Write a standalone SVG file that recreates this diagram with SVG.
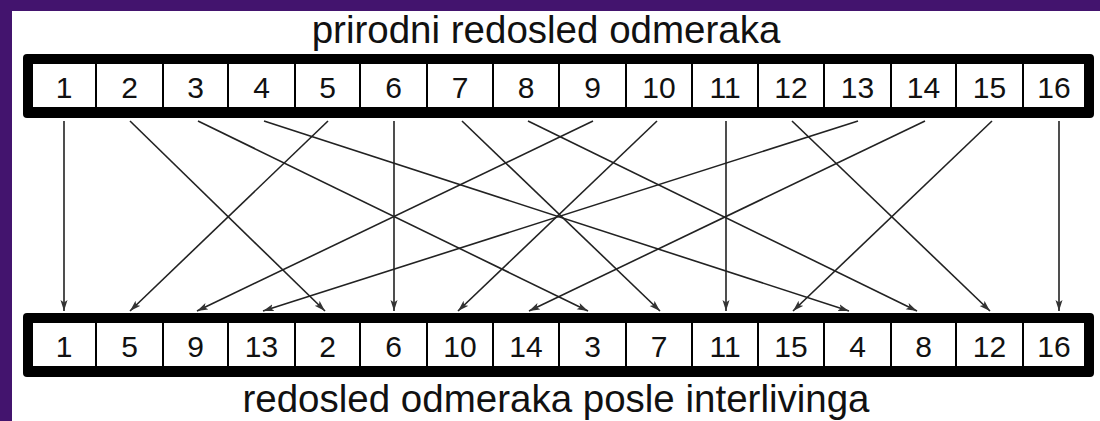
<svg xmlns="http://www.w3.org/2000/svg" width="1100" height="421" viewBox="0 0 1100 421">
  <defs>
    <style>
      .frame { fill: #000; }
      .cell { fill: #fff; stroke: #000; stroke-width: 2; }
      .num { font-family: "Liberation Sans", Arial, sans-serif; font-size: 30px; fill: #111; text-anchor: middle; }
      .title { font-family: "Liberation Sans", Arial, sans-serif; font-size: 38.5px; fill: #111; text-anchor: middle; }
      .conn line { stroke: #222; stroke-width: 1.6; fill: none; marker-end: url(#arr); }
    </style>
    <marker id="arr" markerUnits="userSpaceOnUse" markerWidth="12" markerHeight="10" refX="11" refY="4" orient="auto">
      <path d="M0,0.5 L11,4 L0,7.5 L2.5,4 Z" fill="#333"/>
    </marker>
  </defs>
  <rect x="0" y="0" width="1100" height="421" fill="#43146e"/>
  <rect x="12" y="11" width="1088" height="410" fill="#fff"/>

  <text class="title" x="546" y="43">prirodni redosled odmeraka</text>
  <text class="title" x="556" y="412">redosled odmeraka posle interlivinga</text>

  <g id="top-row">
    <rect class="frame" x="23" y="54" width="1071" height="64" rx="4"/>
    <g id="top-1"><rect class="cell" x="32" y="63" width="64" height="45"/><text class="num" x="64" y="98">1</text></g>
    <g id="top-2"><rect class="cell" x="96" y="63" width="67" height="45"/><text class="num" x="129.5" y="98">2</text></g>
    <g id="top-3"><rect class="cell" x="163" y="63" width="65" height="45"/><text class="num" x="195.5" y="98">3</text></g>
    <g id="top-4"><rect class="cell" x="228" y="63" width="67" height="45"/><text class="num" x="261.5" y="98">4</text></g>
    <g id="top-5"><rect class="cell" x="295" y="63" width="65" height="45"/><text class="num" x="327.5" y="98">5</text></g>
    <g id="top-6"><rect class="cell" x="360" y="63" width="67" height="45"/><text class="num" x="393.5" y="98">6</text></g>
    <g id="top-7"><rect class="cell" x="427" y="63" width="66" height="45"/><text class="num" x="460" y="98">7</text></g>
    <g id="top-8"><rect class="cell" x="493" y="63" width="66" height="45"/><text class="num" x="526" y="98">8</text></g>
    <g id="top-9"><rect class="cell" x="559" y="63" width="67" height="45"/><text class="num" x="592.5" y="98">9</text></g>
    <g id="top-10"><rect class="cell" x="626" y="63" width="66" height="45"/><text class="num" x="659" y="98">10</text></g>
    <g id="top-11"><rect class="cell" x="692" y="63" width="66" height="45"/><text class="num" x="725" y="98">11</text></g>
    <g id="top-12"><rect class="cell" x="758" y="63" width="66" height="45"/><text class="num" x="791" y="98">12</text></g>
    <g id="top-13"><rect class="cell" x="824" y="63" width="67" height="45"/><text class="num" x="857.5" y="98">13</text></g>
    <g id="top-14"><rect class="cell" x="891" y="63" width="65" height="45"/><text class="num" x="923.5" y="98">14</text></g>
    <g id="top-15"><rect class="cell" x="956" y="63" width="67" height="45"/><text class="num" x="989.5" y="98">15</text></g>
    <g id="top-16"><rect class="cell" x="1023" y="63" width="62" height="45"/><text class="num" x="1054" y="98">16</text></g>
  </g>

  <g id="bottom-row">
    <rect class="frame" x="23" y="313" width="1071" height="64" rx="4"/>
    <g id="bot-1"><rect class="cell" x="32" y="322" width="64" height="45"/><text class="num" x="64" y="357">1</text></g>
    <g id="bot-5"><rect class="cell" x="96" y="322" width="67" height="45"/><text class="num" x="129.5" y="357">5</text></g>
    <g id="bot-9"><rect class="cell" x="163" y="322" width="65" height="45"/><text class="num" x="195.5" y="357">9</text></g>
    <g id="bot-13"><rect class="cell" x="228" y="322" width="67" height="45"/><text class="num" x="261.5" y="357">13</text></g>
    <g id="bot-2"><rect class="cell" x="295" y="322" width="65" height="45"/><text class="num" x="327.5" y="357">2</text></g>
    <g id="bot-6"><rect class="cell" x="360" y="322" width="67" height="45"/><text class="num" x="393.5" y="357">6</text></g>
    <g id="bot-10"><rect class="cell" x="427" y="322" width="66" height="45"/><text class="num" x="460" y="357">10</text></g>
    <g id="bot-14"><rect class="cell" x="493" y="322" width="66" height="45"/><text class="num" x="526" y="357">14</text></g>
    <g id="bot-3"><rect class="cell" x="559" y="322" width="67" height="45"/><text class="num" x="592.5" y="357">3</text></g>
    <g id="bot-7"><rect class="cell" x="626" y="322" width="66" height="45"/><text class="num" x="659" y="357">7</text></g>
    <g id="bot-11"><rect class="cell" x="692" y="322" width="66" height="45"/><text class="num" x="725" y="357">11</text></g>
    <g id="bot-15"><rect class="cell" x="758" y="322" width="66" height="45"/><text class="num" x="791" y="357">15</text></g>
    <g id="bot-4"><rect class="cell" x="824" y="322" width="67" height="45"/><text class="num" x="857.5" y="357">4</text></g>
    <g id="bot-8"><rect class="cell" x="891" y="322" width="65" height="45"/><text class="num" x="923.5" y="357">8</text></g>
    <g id="bot-12"><rect class="cell" x="956" y="322" width="67" height="45"/><text class="num" x="989.5" y="357">12</text></g>
    <g id="bot-16"><rect class="cell" x="1023" y="322" width="62" height="45"/><text class="num" x="1054" y="357">16</text></g>
  </g>

  <g id="connectors" class="conn">
    <line x1="64" y1="121" x2="64" y2="311"/>
    <line x1="130" y1="121" x2="325" y2="311"/>
    <line x1="198" y1="121" x2="588" y2="311"/>
    <line x1="264" y1="121" x2="849" y2="311"/>
    <line x1="328" y1="121" x2="130" y2="311"/>
    <line x1="394" y1="121" x2="394" y2="311"/>
    <line x1="462" y1="121" x2="660" y2="311"/>
    <line x1="528" y1="121" x2="917" y2="311"/>
    <line x1="593" y1="121" x2="197" y2="311"/>
    <line x1="657" y1="121" x2="458" y2="311"/>
    <line x1="726" y1="121" x2="726" y2="311"/>
    <line x1="792" y1="121" x2="990" y2="311"/>
    <line x1="858" y1="121" x2="263" y2="311"/>
    <line x1="925" y1="121" x2="529" y2="311"/>
    <line x1="992" y1="121" x2="793" y2="311"/>
    <line x1="1059" y1="121" x2="1059" y2="311"/>
  </g>
</svg>
